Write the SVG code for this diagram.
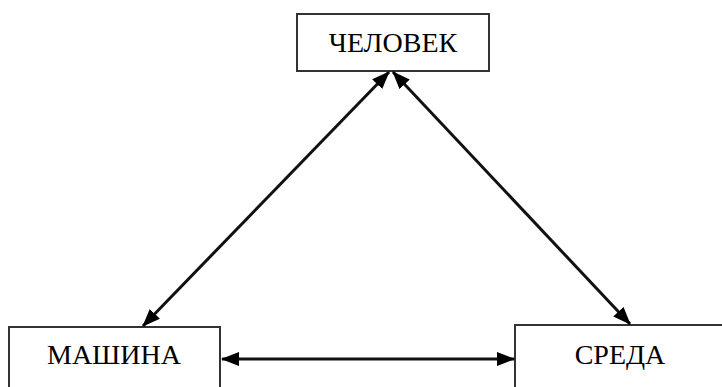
<svg xmlns="http://www.w3.org/2000/svg" width="722" height="387" viewBox="0 0 722 387">
<defs>
<marker id="ah" viewBox="0 0 18 14" refX="17" refY="7" markerWidth="18" markerHeight="14" markerUnits="userSpaceOnUse" orient="auto-start-reverse">
<path d="M0,0 L18,7 L0,14 Z" fill="#000"/>
</marker>
<style>
.box{fill:#fff;stroke:#333;stroke-width:2}
.lbl{font-family:"Liberation Serif","Times New Roman",serif;font-size:28px;fill:#000;text-anchor:middle}
.con{stroke:#111;stroke-width:3;fill:none;marker-start:url(#ah);marker-end:url(#ah)}
</style>
</defs>
<g id="chelovek">
<rect class="box" x="297" y="14" width="192" height="57"/>
<text class="lbl" x="393" y="52">ЧЕЛОВЕК</text>
</g>
<g id="mashina">
<rect class="box" x="9" y="327" width="211" height="70"/>
<text class="lbl" x="114" y="364">МАШИНА</text>
</g>
<g id="sreda">
<rect class="box" x="515" y="325" width="220" height="70"/>
<text class="lbl" x="620" y="364">СРЕДА</text>
</g>
<g id="connectors">
<line class="con" x1="143" y1="326" x2="389" y2="72"/>
<line class="con" x1="393" y1="72" x2="630" y2="324"/>
<line class="con" x1="222" y1="359" x2="514" y2="359"/>
</g>
</svg>
